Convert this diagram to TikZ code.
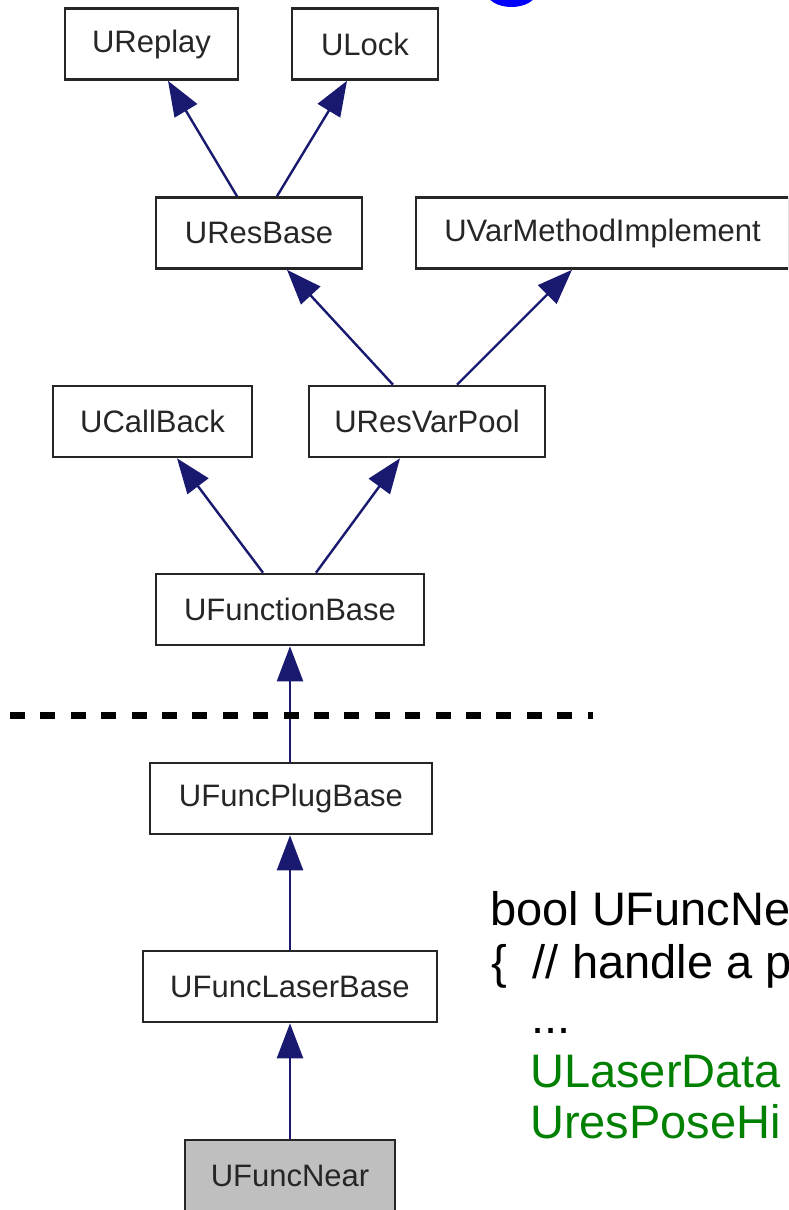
\documentclass[tikz,border=0pt]{standalone}
\usepackage{fontspec}
\setmainfont{Liberation Sans}
\usetikzlibrary{arrows.meta}
\definecolor{edgeblue}{HTML}{191970}
\definecolor{codegreen}{HTML}{008000}
\definecolor{nodegray}{HTML}{BFBFBF}
\begin{document}
\begin{tikzpicture}[x=1pt,y=-1pt,
  cls/.style={draw=black!85, line width=2.6pt, minimum height=71pt, inner sep=0pt,
    font=\fontsize{31}{37}\selectfont, text=black!85},
  inh/.style={draw=edgeblue, line width=2.4pt, -{Triangle[length=35pt,width=26pt]}},
  code/.style={anchor=base west, inner sep=0pt, font=\fontsize{47}{56}\selectfont},
  sep/.style={line width=7pt, dash pattern=on 15pt off 15.4pt}]
\useasboundingbox (0,0) rectangle (788,1210);
\clip (0,0) rectangle (788,1210);
\fill[blue] (511.5,-8) ellipse [x radius=25, y radius=15];

\node[cls, minimum width=173pt] (replay) at (151.5,44) {UReplay};
\node[cls, minimum width=146pt] (lock) at (365,44) {ULock};
\node[cls, minimum width=206pt] (resbase) at (259,233) {UResBase};
\node[cls, minimum width=373pt] (varmethod) at (602.5,233) {UVarMethodImplement};
\node[cls, minimum width=199pt] (callback) at (152.5,421.5) {UCallBack};
\node[cls, minimum width=236pt] (resvarpool) at (427,421.5) {UResVarPool};
\node[cls, minimum width=268pt] (funcbase) at (290,609.5) {UFunctionBase};
\node[cls, minimum width=282pt] (plugbase) at (291,798.5) {UFuncPlugBase};
\node[cls, minimum width=294pt] (laserbase) at (290,986.5) {UFuncLaserBase};
\node[cls, fill=nodegray, minimum width=210pt] (near) at (290,1175.5) {UFuncNear};

\draw[inh] ([xshift=-22pt]resbase.north) -- ([xshift=16.5pt]replay.south);
\draw[inh] ([xshift=18pt]resbase.north) -- ([xshift=-18pt]lock.south);
\draw[inh] ([xshift=-34pt]resvarpool.north) -- ([xshift=28pt]resbase.south);
\draw[inh] ([xshift=30pt]resvarpool.north) -- ([xshift=-30.5pt]varmethod.south);
\draw[inh] ([xshift=-27pt]funcbase.north) -- ([xshift=24.5pt]callback.south);
\draw[inh] ([xshift=26pt]funcbase.north) -- ([xshift=-27pt]resvarpool.south);
\draw[inh] (plugbase.north -| funcbase.south) -- (funcbase.south);
\draw[inh] (laserbase.north) -- (plugbase.south -| laserbase.north);
\draw[inh] (near.north) -- (laserbase.south);

\coordinate (sepL) at (10,715);
\coordinate (sepR) at (593,715);
\draw[sep] (sepL) -- (sepR);

\node[code] (c1) at (490,925) {bool UFuncNe};
\node[code] (c2) at (491,978) {\{\hspace{26pt}// handle a p};
\node[code] (c3) at (531,1033) {...};
\node[code, text=codegreen] (c4) at (530,1087) {ULaserData};
\node[code, text=codegreen] (c5) at (530,1138) {UresPoseHi};
\end{tikzpicture}
\end{document}
